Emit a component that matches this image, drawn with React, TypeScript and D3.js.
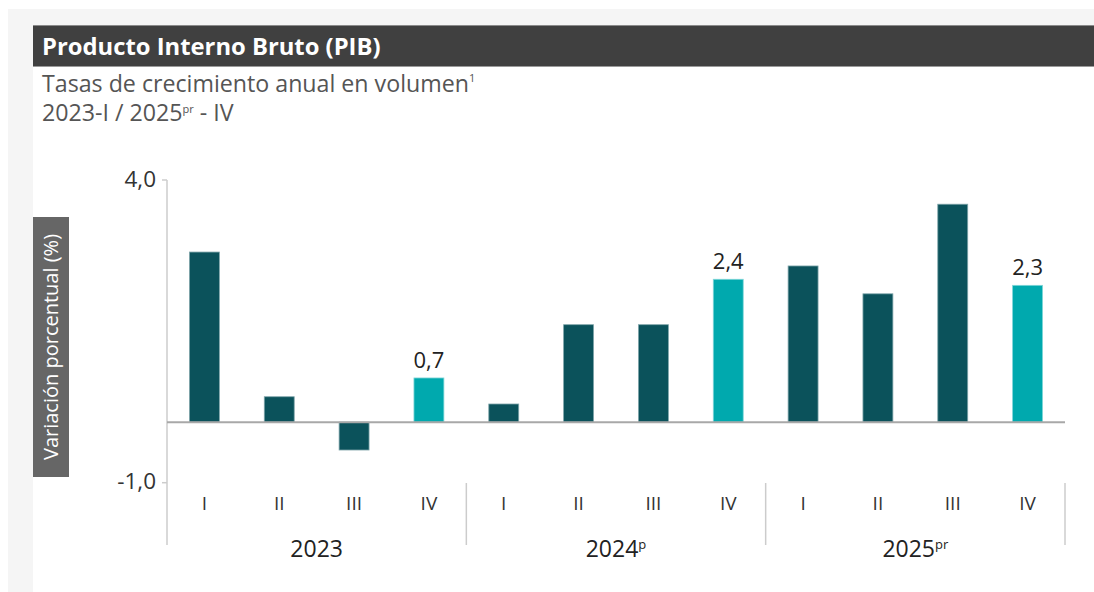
import React from "react";
import * as d3 from "d3";

const years = ["2023", "2024", "2025"];
const yearSup = ["", "p", "pr"];
const quarters = ["I", "II", "III", "IV"];
const values = [2.81, 0.42, -0.46, 0.73, 0.3, 1.61, 1.61, 2.36, 2.58, 2.12, 3.6, 2.26];
const yTicks = [4, -1];

const W = 1094;
const H = 592;
const FONT = "'Open Sans', 'Noto Sans', sans-serif";
const DARK = "#0b525b";
const CYAN = "#00a9ae";

export default function App() {
  const x0 = 167;
  const x1 = 1065;
  const y = d3.scaleLinear().domain([-1, 4]).range([482.7, 180]);
  const cats = years.flatMap((yr) => quarters.map((q) => `${yr}-${q}`));
  const xb = d3.scaleBand().domain(cats).range([x0, x1]).paddingInner(0.6).paddingOuter(0.3);
  const xq = d3.scaleBand().domain(cats).range([x0, x1]);
  const xy = d3.scaleBand().domain(years).range([x0, x1]);
  const fmt = (v: number) => d3.format(".1f")(v).replace(".", ",").replace("−", "-");
  const y0 = y(0);

  return (
    <svg width={W} height={H} style={{ position: "absolute", left: 0, top: 0 }} fontFamily={FONT}>
      <rect x={0} y={0} width={W} height={H} fill="#ffffff" />
      <rect x={8} y={9} width={W - 8} height={H - 9} fill="#f5f5f5" />
      <rect x={33} y={25} width={W - 33} height={H - 25} fill="#ffffff" />
      {/* title bar */}
      <rect x={33} y={25} width={W - 33} height={41} fill="#404040" />
      <line x1={33} x2={W} y1={25.5} y2={25.5} stroke="#8a8a8a" />
      <line x1={33} x2={W} y1={66.5} y2={66.5} stroke="#9a9a9a" />
      <text x={42} y={55} fill="#ffffff" fontSize={23.8} fontWeight={700}>
        Producto Interno Bruto (PIB)
      </text>
      <text x={42} y={92} fill="#555" fontSize={23.2}>
        Tasas de crecimiento anual en volumen<tspan fontSize={11} dy={-10}>1</tspan>
      </text>
      <text x={42} y={121} fill="#555" fontSize={23.2}>
        2023-I / 2025<tspan fontSize={11} dy={-8}>pr</tspan>
        <tspan dy={8}> - IV</tspan>
      </text>

      {/* y label box */}
      <rect x={33} y={217} width={36} height={260} fill="#666666" />
      <text
        transform={`translate(58,347) rotate(-90)`}
        textAnchor="middle"
        fill="#ffffff"
        fontSize={20}
      >
        Variación porcentual (%)
      </text>

      {/* y axis */}
      <line x1={x0} x2={x0} y1={y(4)} y2={545} stroke="#cccccc" strokeWidth={1.5} />
      {yTicks.map((t) => (
        <g key={t}>
          <line x1={x0 - 5} x2={x0} y1={y(t)} y2={y(t)} stroke="#cccccc" strokeWidth={1.5} />
          <text x={156} y={y(t)} dy="0.3em" textAnchor="end" fontSize={22.5} fill="#333">
            {fmt(t)}
          </text>
        </g>
      ))}

      {/* bars */}
      {values.map((v, i) => {
        const c = cats[i];
        const isIV = i % 4 === 3;
        const top = Math.min(y(v), y0);
        const h = Math.abs(y(v) - y0);
        return (
          <g key={c}>
            <rect
              x={xb(c)}
              y={top}
              width={xb.bandwidth()}
              height={h}
              fill={isIV ? CYAN : DARK}
              stroke={isIV ? "#7fd6d8" : "#7fa5aa"}
              strokeWidth={0.8}
            />
            {isIV && (
              <text
                x={(xb(c) as number) + xb.bandwidth() / 2}
                y={y(v) - 10}
                textAnchor="middle"
                fontSize={22}
                fill="#222"
              >
                {fmt(v)}
              </text>
            )}
          </g>
        );
      })}

      {/* zero line */}
      <line x1={x0} x2={x1} y1={y0} y2={y0} stroke="#a8a8a8" strokeWidth={2} />

      {/* quarter labels */}
      {cats.map((c, i) => (
        <text
          key={c}
          x={(xq(c) as number) + xq.bandwidth() / 2}
          y={510}
          textAnchor="middle"
          fontSize={19}
          fill="#333"
        >
          {quarters[i % 4]}
        </text>
      ))}

      {/* year separators */}
      {years.map((yr) => (
        <line
          key={yr}
          x1={(xy(yr) as number) + xy.bandwidth()}
          x2={(xy(yr) as number) + xy.bandwidth()}
          y1={483}
          y2={545}
          stroke="#cccccc"
          strokeWidth={1.5}
        />
      ))}

      {/* year labels */}
      {years.map((yr, i) => (
        <text
          key={yr}
          x={(xy(yr) as number) + xy.bandwidth() / 2}
          y={557}
          textAnchor="middle"
          fontSize={23}
          fill="#222"
        >
          {yr}
          {yearSup[i] && (
            <tspan fontSize={13} dy={-8}>
              {yearSup[i]}
            </tspan>
          )}
        </text>
      ))}
    </svg>
  );
}
